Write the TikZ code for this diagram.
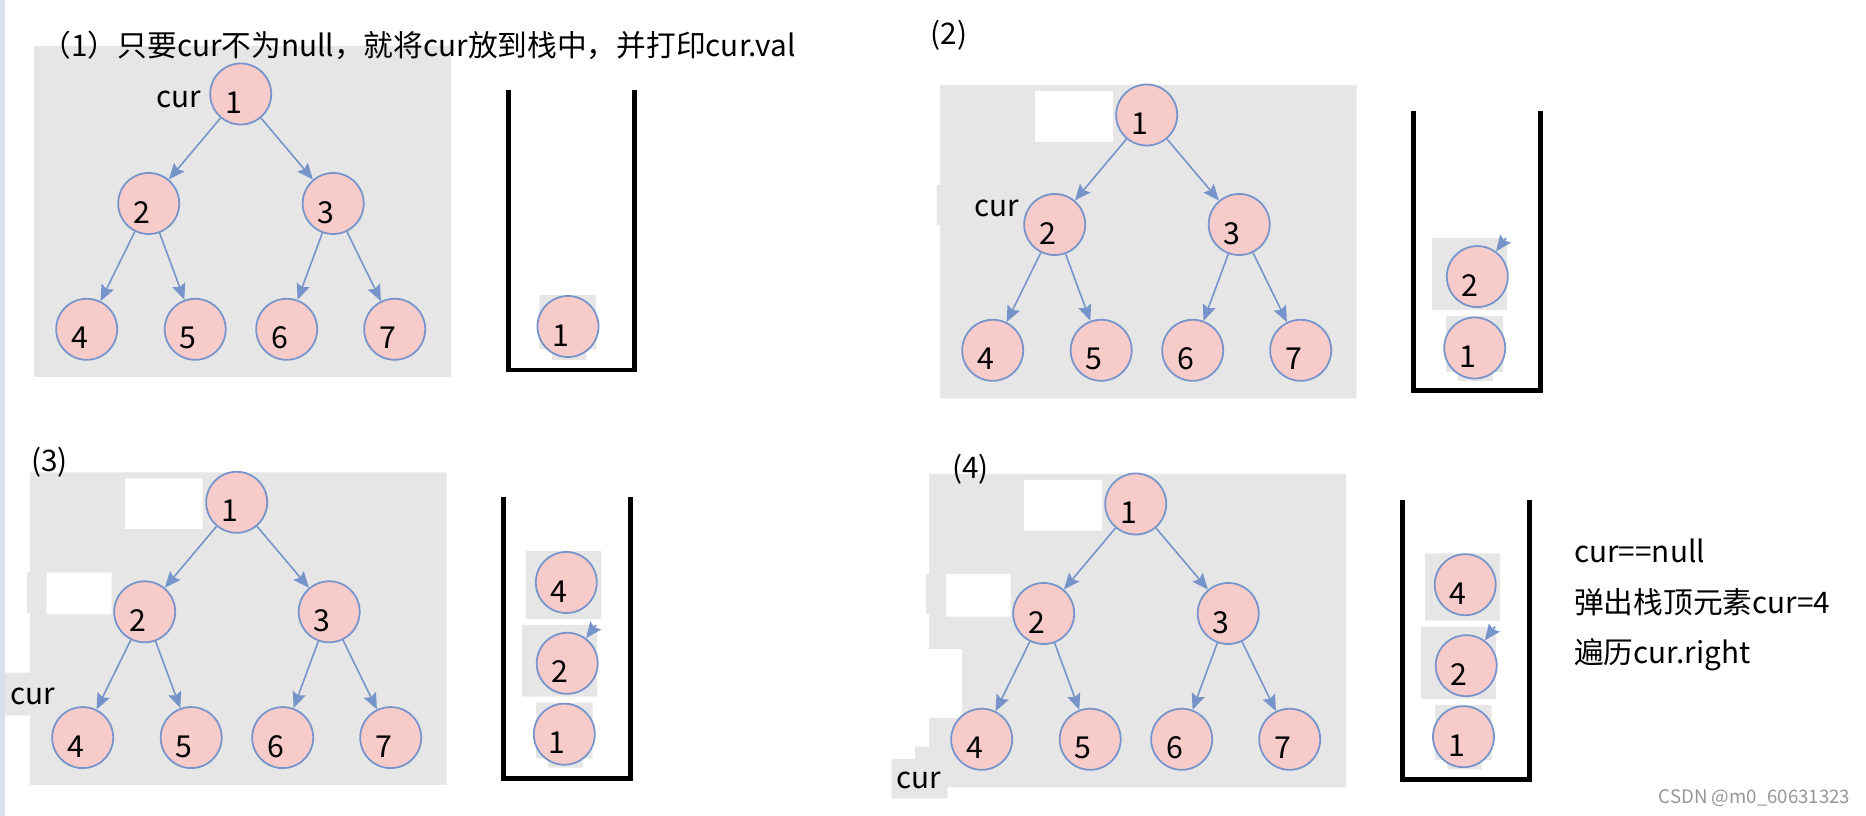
\documentclass[tikz,border=0pt]{standalone}
\usepackage{fontspec}
\setmainfont{Noto Sans CJK SC}
\usepackage{tikz}
\usetikzlibrary{arrows.meta}
\setlength{\parindent}{0pt}

\definecolor{panelgray}{RGB}{230,230,230}
\definecolor{nodepink}{RGB}{248,203,203}
\definecolor{nodeblue}{RGB}{118,148,202}
\definecolor{stripeblue}{RGB}{216,224,238}
\definecolor{markgray}{RGB}{150,150,150}

\tikzset{
  tnode/.style={circle, draw=nodeblue, fill=nodepink, line width=0.5pt, minimum size=0.61cm, inner sep=0pt,
    font=\fontsize{8.6pt}{10pt}\selectfont, text width=0.31cm, align=left, text height=0.39cm, text depth=0pt},
  link/.style={draw=nodeblue, line width=0.45pt, -{Stealth[length=1.6mm, width=1.35mm, inset=0.25mm]}},
  wall/.style={draw=black, line width=1.35pt},
  lab/.style={inner sep=0pt, font=\fontsize{8.45pt}{10pt}\selectfont},
}

\begin{document}
\begin{tikzpicture}[x=0.01cm, y=-0.01cm]
  \useasboundingbox (0,0) rectangle (1866,816);
  \fill[stripeblue] (0,0) rectangle (5,816);
  % ---- (1) push the root ----
  \fill[panelgray] (34,46) rectangle (451,377);
  \node[lab, anchor=base west] (ta) at (41,56.7) {（1）只要cur不为null，就将cur放到栈中，并打印cur.val};
  \begin{scope}[shift={(240.7,94)}]
    \node[tnode] (a1) at (0,0) {1};
    \node[tnode] (a2) at (-92,109.5) {2}; \node[tnode] (a3) at (92.5,109.5) {3};
    \node[tnode] (a4) at (-154,235.3) {4}; \node[tnode] (a5) at (-45.5,235.3) {5};
    \node[tnode] (a6) at (46,235.3) {6}; \node[tnode] (a7) at (154,235.3) {7};
  \end{scope}
  \draw[link] (a1) -- (a2); \draw[link] (a1) -- (a3);
  \draw[link] (a2) -- (a4); \draw[link] (a2) -- (a5);
  \draw[link] (a3) -- (a6); \draw[link] (a3) -- (a7);
  \node[lab, anchor=base east] (ca) at (202,107.7) {cur};
  \draw[wall] (508.2,90.4) -- (508.2,370.1) -- (634.3,370.1) -- (634.3,90.4);
  \fill[panelgray] (539.3,295) rectangle (596.2,349.3) (551.8,349.3) rectangle (586.4,360);
  \node[tnode] (sa1) at (568,326.5) {1};
  % ---- (2) go left ----
  \fill[panelgray] (940,85) rectangle (1356.7,398.3) (936.7,185) rectangle (940,225);
  \fill[white] (1035,91) rectangle (1112.7,141.7);
  \node[lab, anchor=base west] (tb) at (930,45) {(2)};
  \begin{scope}[shift={(1146.7,115)}]
    \node[tnode] (b1) at (0,0) {1};
    \node[tnode] (b2) at (-92,109.5) {2}; \node[tnode] (b3) at (92.5,109.5) {3};
    \node[tnode] (b4) at (-154,235.3) {4}; \node[tnode] (b5) at (-45.5,235.3) {5};
    \node[tnode] (b6) at (46,235.3) {6}; \node[tnode] (b7) at (154,235.3) {7};
  \end{scope}
  \draw[link] (b1) -- (b2); \draw[link] (b1) -- (b3);
  \draw[link] (b2) -- (b4); \draw[link] (b2) -- (b5);
  \draw[link] (b3) -- (b6); \draw[link] (b3) -- (b7);
  \node[lab, anchor=base east] (cb) at (1020,216.7) {cur};
  \draw[wall] (1413.5,111) -- (1413.5,390.7) -- (1540.3,390.7) -- (1540.3,111);
  \fill[panelgray] (1432,238) rectangle (1507,310);
  \fill[panelgray] (1446,316) rectangle (1503,372) (1458,372) rectangle (1493,381);
  \node[tnode] (sb2) at (1477.3,276.6) {2};
  \node[tnode] (sb1) at (1474.7,348) {1};
  \coordinate (qb) at (1506,238);
  \draw[link] (qb) -- (sb2);
  % ---- (3) go left again ----
  \fill[panelgray] (30,472.3) rectangle (446.7,785) (5,672.7) rectangle (30,715.7);
  \fill[panelgray] (26.7,572.3) rectangle (46.7,612.7);
  \fill[white] (125,478.3) rectangle (202.7,529) (46.7,572.3) rectangle (111.7,614.3);
  \node[lab, anchor=base west] (tc) at (30.5,471.7) {(3)};
  \begin{scope}[shift={(236.7,502.3)}]
    \node[tnode] (c1) at (0,0) {1};
    \node[tnode] (c2) at (-92,109.5) {2}; \node[tnode] (c3) at (92.5,109.5) {3};
    \node[tnode] (c4) at (-154,235.3) {4}; \node[tnode] (c5) at (-45.5,235.3) {5};
    \node[tnode] (c6) at (46,235.3) {6}; \node[tnode] (c7) at (154,235.3) {7};
  \end{scope}
  \draw[link] (c1) -- (c2); \draw[link] (c1) -- (c3);
  \draw[link] (c2) -- (c4); \draw[link] (c2) -- (c5);
  \draw[link] (c3) -- (c6); \draw[link] (c3) -- (c7);
  \node[lab, anchor=base east] (cc) at (56,705) {cur};
  \draw[wall] (503.3,497.3) -- (503.3,778.3) -- (630.3,778.3) -- (630.3,497.3);
  \fill[panelgray] (526,551) rectangle (601,619) (522,625) rectangle (597,696.7);
  \fill[panelgray] (536,702.7) rectangle (592.7,758.3) (548,758.3) rectangle (582.7,767.7);
  \node[tnode] (sc4) at (566.3,582.5) {4};
  \node[tnode] (sc2) at (567.2,663.3) {2};
  \node[tnode] (sc1) at (564.3,734.2) {1};
  \coordinate (qc) at (596,625);
  \draw[link] (qc) -- (sc2);
  % ---- (4) cur is null, pop ----
  \fill[panelgray] (929,474) rectangle (1346,787.3) (915,746.7) rectangle (929,759);
  \fill[panelgray] (926,574) rectangle (946,614) (891.7,759) rectangle (947.3,798.3);
  \fill[white] (1024,480) rectangle (1102,530.7) (946,574) rectangle (1010.7,616.7);
  \fill[white] (929,649) rectangle (961.7,717.7);
  \node[lab, anchor=base west] (td) at (951.3,479) {(4)};
  \begin{scope}[shift={(1135.7,504)}]
    \node[tnode] (d1) at (0,0) {1};
    \node[tnode] (d2) at (-92,109.5) {2}; \node[tnode] (d3) at (92.5,109.5) {3};
    \node[tnode] (d4) at (-154,235.3) {4}; \node[tnode] (d5) at (-45.5,235.3) {5};
    \node[tnode] (d6) at (46,235.3) {6}; \node[tnode] (d7) at (154,235.3) {7};
  \end{scope}
  \draw[link] (d1) -- (d2); \draw[link] (d1) -- (d3);
  \draw[link] (d2) -- (d4); \draw[link] (d2) -- (d5);
  \draw[link] (d3) -- (d6); \draw[link] (d3) -- (d7);
  \node[lab, anchor=base east] (cd) at (941.7,788.3) {cur};
  \draw[wall] (1402.5,500) -- (1402.5,779.7) -- (1529.2,779.7) -- (1529.2,500);
  \fill[panelgray] (1425,553.3) rectangle (1500,620.7) (1421,626.7) rectangle (1496,699);
  \fill[panelgray] (1435,705) rectangle (1491.7,760) (1447.3,760) rectangle (1481.7,769.3);
  \node[tnode] (sd4) at (1465.2,584.7) {4};
  \node[tnode] (sd2) at (1466.2,665.7) {2};
  \node[tnode] (sd1) at (1463.5,736.7) {1};
  \coordinate (qd) at (1495,626.7);
  \draw[link] (qd) -- (sd2);
  \node[lab, anchor=base west] (m1) at (1573.5,562.7) {cur==null};
  \node[lab, anchor=base west] (m2) at (1573.5,614) {弹出栈顶元素cur=4};
  \node[lab, anchor=base west] (m3) at (1573.5,664) {遍历cur.right};
  \node[anchor=base east, inner sep=0pt, text=markgray, font=\fontsize{5.3pt}{6pt}\selectfont] (wm) at (1851,804) {CSDN @m0\_60631323};
\end{tikzpicture}
\end{document}
